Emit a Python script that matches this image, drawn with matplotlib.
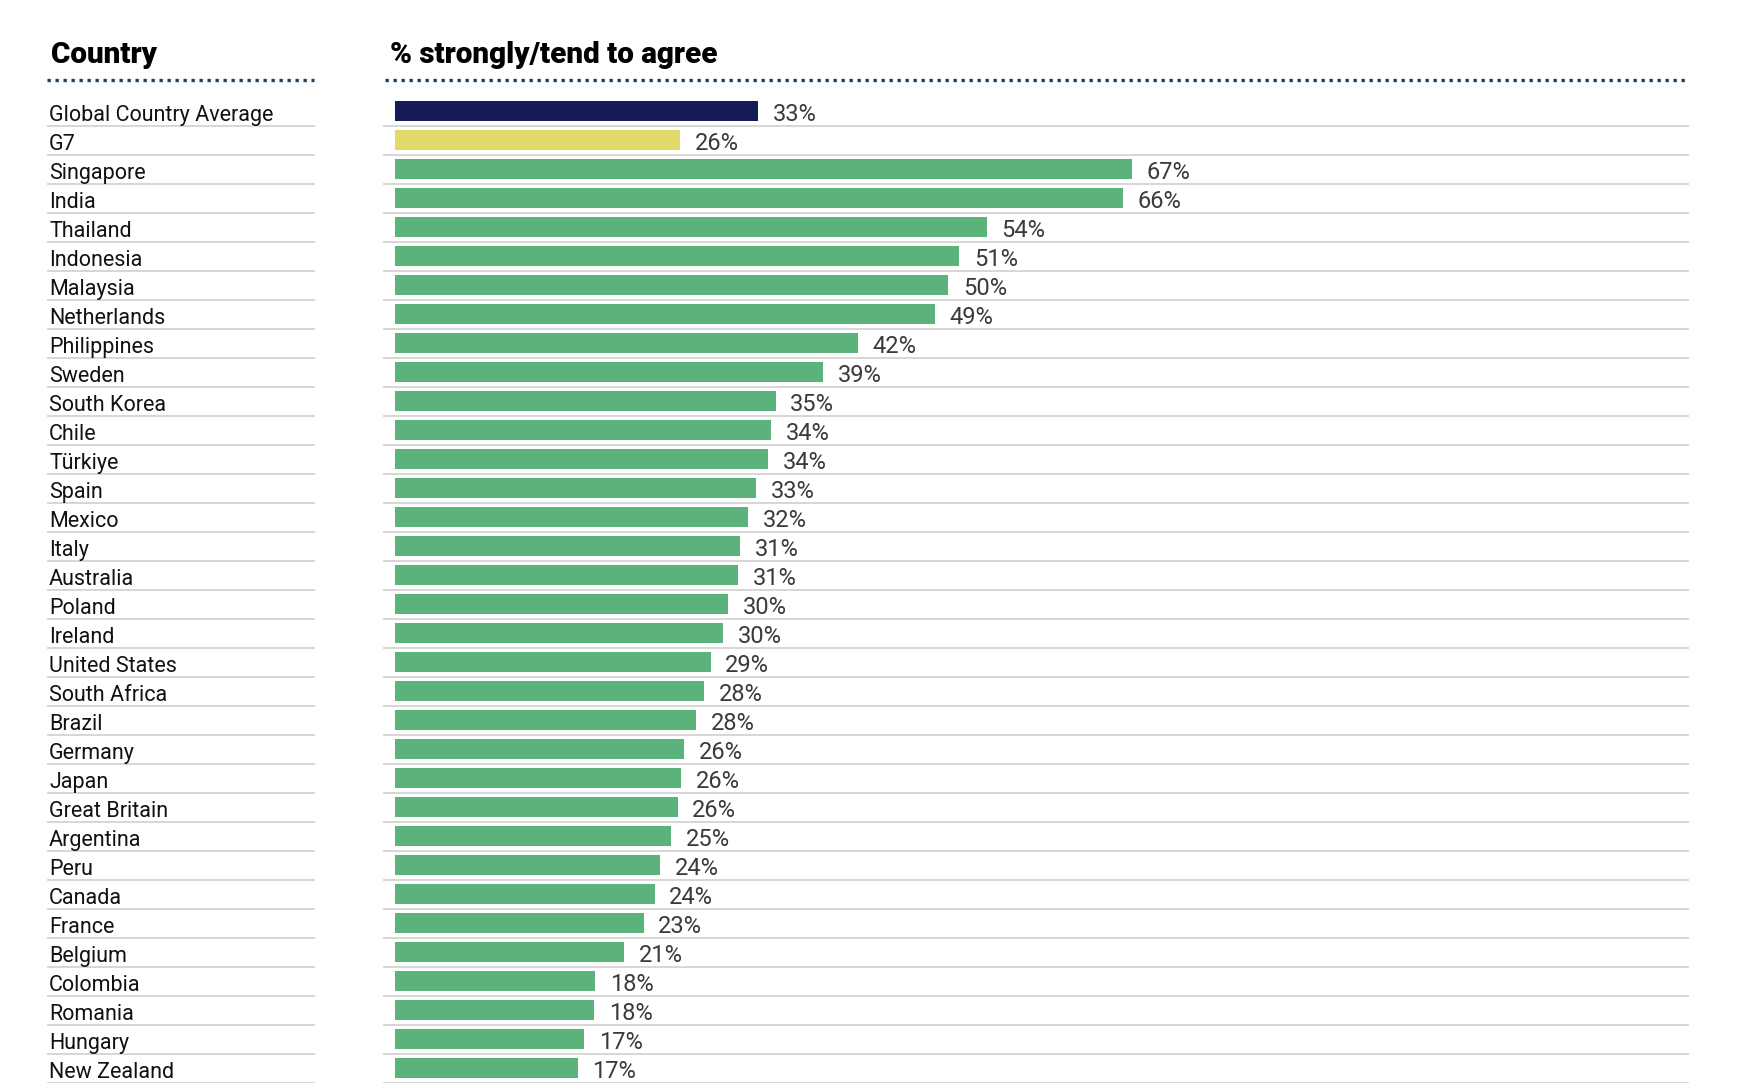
import matplotlib.pyplot as plt
from matplotlib.lines import Line2D

plt.rcParams['font.family'] = ['Roboto', 'DejaVu Sans']

countries = ['Global Country Average', 'G7', 'Singapore', 'India', 'Thailand',
             'Indonesia', 'Malaysia', 'Netherlands', 'Philippines', 'Sweden',
             'South Korea', 'Chile', 'Türkiye', 'Spain', 'Mexico', 'Italy',
             'Australia', 'Poland', 'Ireland', 'United States', 'South Africa',
             'Brazil', 'Germany', 'Japan', 'Great Britain', 'Argentina', 'Peru',
             'Canada', 'France', 'Belgium', 'Colombia', 'Romania', 'Hungary',
             'New Zealand']
# bar lengths (unrounded) and the printed labels
values = [33.0, 25.9, 67.0, 66.2, 53.8, 51.3, 50.3, 49.1, 42.1, 38.9, 34.6,
          34.2, 33.9, 32.8, 32.1, 31.4, 31.2, 30.3, 29.8, 28.7, 28.1, 27.4,
          26.3, 26.0, 25.7, 25.1, 24.1, 23.6, 22.6, 20.8, 18.2, 18.1, 17.2, 16.6]
shown = [33, 26, 67, 66, 54, 51, 50, 49, 42, 39, 35, 34, 34, 33, 32, 31, 31,
         30, 30, 29, 28, 28, 26, 26, 26, 25, 24, 24, 23, 21, 18, 18, 17, 17]
header_left = 'Country'
header_right = '% strongly/tend to agree'

W, H = 1738, 1086
fig = plt.figure(figsize=(W / 100, H / 100), dpi=100)

def fx(px):
    return px / W

def fy(py):
    return 1 - py / H

n = len(countries)
pitch = 29
top = 96.7
bottom = top + n * pitch

navy = '#161c58'
yellow = '#e2d96a'
green = '#5bb27b'
sep = '#d3d3d3'
dotc = '#23415a'

colors = [navy, yellow] + [green] * (n - 2)

# right panel: bars
ax = fig.add_axes([fx(383), fy(bottom), fx(1689 - 383), (bottom - top) / H])
px_per = 11.0
ax.set_xlim(-12 / px_per, (1689 - 395.3) / px_per)
ax.set_ylim(n - 0.5, -0.5)
ax.barh(range(n), values, height=20 / pitch, color=colors, left=0)
ax.hlines([i + 0.5 for i in range(n)], -12 / px_per, (1689 - 395.3) / px_per,
          color=sep, lw=1.3)
for i, (v, s) in enumerate(zip(values, shown)):
    ax.annotate(f'{s}%', (v, i + 10 / pitch), xytext=(10.5, 0),
                textcoords='offset points', va='baseline', ha='left',
                fontsize=17, color='#3a3a3a')
ax.axis('off')

# left panel: country names
axl = fig.add_axes([fx(47), fy(bottom), fx(315 - 47), (bottom - top) / H])
axl.set_xlim(0, 268)
axl.set_ylim(n - 0.5, -0.5)
axl.hlines([i + 0.5 for i in range(n)], 0, 268, color=sep, lw=1.3)
for i, c in enumerate(countries):
    axl.text(2, i + 10 / pitch, c, va='baseline', ha='left',
             fontsize=15.5, color='#111111')
axl.axis('off')

# headers and dotted rules
fig.text(fx(51), fy(63), header_left, fontsize=21.3, fontweight=900,
         va='baseline', ha='left', color='#000000')
fig.text(fx(390), fy(63), header_right, fontsize=21.3, fontweight=900,
         va='baseline', ha='left', color='#000000')
for x0, x1 in [(47, 314), (385, 1689)]:
    fig.add_artist(Line2D([fx(x0), fx(x1)], [fy(80), fy(80)], color=dotc,
                          lw=2.4, linestyle=(0, (1, 1.4)),
                          transform=fig.transFigure))

fig.savefig('out.png', dpi=100)
